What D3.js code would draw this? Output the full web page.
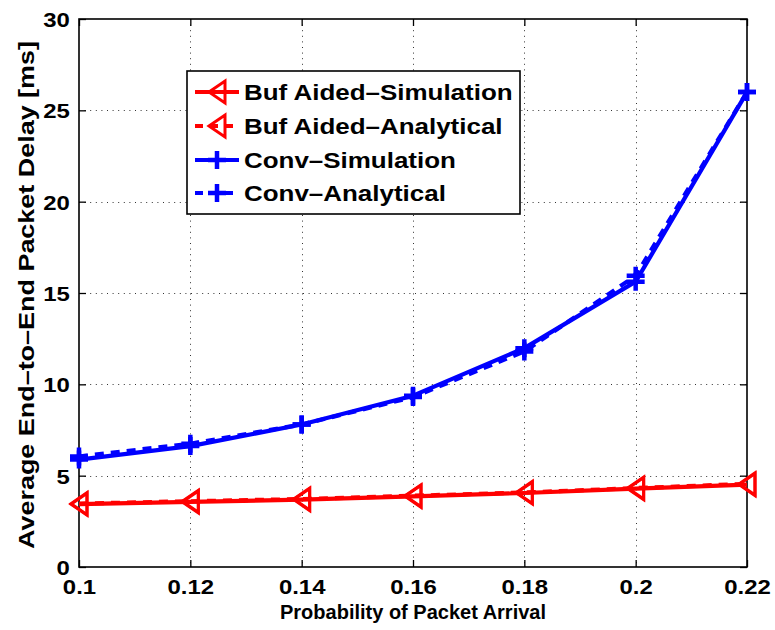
<!DOCTYPE html>
<html>
<head>
<meta charset="utf-8">
<script src="https://cdn.jsdelivr.net/npm/d3@7"></script>
<style>
  body { margin: 0; background: #fff; }
  text { font-family: "Liberation Sans", Arial, Helvetica, sans-serif; font-weight: bold; fill: #000; }
</style>
</head>
<body>
<svg id="chart" width="775" height="630"></svg>
<script>
// Probability of packet arrival (x) and average end-to-end delay in ms (y)
const arrivalProb = [0.10, 0.12, 0.14, 0.16, 0.18, 0.20, 0.22];
const bufAidedSim = [3.44, 3.56, 3.69, 3.87, 4.05, 4.29, 4.51];
const bufAidedAna = [3.47, 3.60, 3.72, 3.90, 4.08, 4.32, 4.55];
const convSim     = [5.88, 6.62, 7.80, 9.38, 11.98, 15.62, 26.00];
const convAna     = [6.05, 6.75, 7.80, 9.30, 11.80, 15.95, 26.00];

const xTickValues = [0.10, 0.12, 0.14, 0.16, 0.18, 0.20, 0.22];
const xTickLabels = ["0.1", "0.12", "0.14", "0.16", "0.18", "0.2", "0.22"];
const yTickValues = [0, 5, 10, 15, 20, 25, 30];
const yTickLabels = ["0", "5", "10", "15", "20", "25", "30"];

const seriesNames = ["Buf Aided\u2013Simulation", "Buf Aided\u2013Analytical", "Conv\u2013Simulation", "Conv\u2013Analytical"];

const series = [
  { name: seriesNames[0], values: bufAidedSim, color: "#ff0000", dash: null,  marker: "tri" },
  { name: seriesNames[1], values: bufAidedAna, color: "#ff0000", dash: "9,7", marker: "tri" },
  { name: seriesNames[2], values: convSim,     color: "#0000ff", dash: null,  marker: "plus" },
  { name: seriesNames[3], values: convAna,     color: "#0000ff", dash: "9,7", marker: "plus" }
];

const svg = d3.select("#chart");
const box = { left: 79, right: 747, top: 19, bottom: 567 };
const tickStretch = 1.14;    // horizontal widening of the bold tick labels
const legendStretch = 1.18;  // and of the legend entries

const x = d3.scaleLinear().domain([0.1, 0.22]).range([box.left, box.right]);
const y = d3.scaleLinear().domain([0, 30]).range([box.bottom, box.top]);

// dotted grid
const grid = svg.append("g").attr("class", "grid")
  .attr("stroke", "#333").attr("stroke-width", 1).attr("stroke-dasharray", "1,4.6");
grid.selectAll("line.gx").data(xTickValues.slice(1, -1)).join("line")
  .attr("x1", d => Math.round(x(d)) + 0.5).attr("x2", d => Math.round(x(d)) + 0.5)
  .attr("y1", box.top).attr("y2", box.bottom);
grid.selectAll("line.gy").data(yTickValues.slice(1, -1)).join("line")
  .attr("y1", d => Math.round(y(d)) + 0.5).attr("y2", d => Math.round(y(d)) + 0.5)
  .attr("x1", box.left).attr("x2", box.right);

// axes with inward ticks on all four sides
function styleAxis(g) {
  g.select(".domain").remove();
  g.selectAll(".tick line").attr("stroke", "#000").attr("stroke-width", 1.3);
}
const xAxis = d3.axisBottom(x).tickValues(xTickValues)
  .tickFormat((d, i) => xTickLabels[i]).tickSizeInner(-7).tickSizeOuter(0);
const gx = svg.append("g").attr("transform", `translate(0,${box.bottom})`).call(xAxis).call(styleAxis);
gx.selectAll(".tick text").attr("y", 27).attr("dy", null)
  .attr("font-size", 21).attr("transform", `scale(${tickStretch},1)`);

const yAxis = d3.axisLeft(y).tickValues(yTickValues)
  .tickFormat((d, i) => yTickLabels[i]).tickSizeInner(-7).tickSizeOuter(0);
const gy = svg.append("g").attr("transform", `translate(${box.left},0)`).call(yAxis).call(styleAxis);
gy.selectAll(".tick text").attr("x", -8).attr("dy", "0.36em")
  .attr("font-size", 21).attr("transform", `scale(${tickStretch},1)`);

svg.append("g").attr("transform", `translate(0,${box.top})`)
  .call(d3.axisTop(x).tickValues(xTickValues).tickFormat("").tickSizeInner(-7).tickSizeOuter(0)).call(styleAxis);
svg.append("g").attr("transform", `translate(${box.right},0)`)
  .call(d3.axisRight(y).tickValues(yTickValues).tickFormat("").tickSizeInner(-7).tickSizeOuter(0)).call(styleAxis);

svg.append("rect").attr("x", box.left).attr("y", box.top)
  .attr("width", box.right - box.left).attr("height", box.bottom - box.top)
  .attr("fill", "none").attr("stroke", "#000").attr("stroke-width", 1.6);

// axis titles
svg.append("text").attr("x", (box.left + box.right) / 2).attr("y", 619)
  .attr("text-anchor", "middle").attr("font-size", 21)
  .attr("textLength", 266).attr("lengthAdjust", "spacingAndGlyphs")
  .text("Probability of Packet Arrival");
svg.append("text")
  .attr("transform", `translate(34,${(box.top + box.bottom) / 2 + 2}) rotate(-90)`)
  .attr("text-anchor", "middle").attr("font-size", 22)
  .attr("textLength", 508).attr("lengthAdjust", "spacingAndGlyphs")
  .text("Average End\u2013to\u2013End Packet Delay [ms]");

// markers
function drawMarker(g, kind, color) {
  if (kind === "tri") {
    g.append("path").attr("d", "M-8,0 L8,-11 L8,11 Z")
      .attr("fill", "none").attr("stroke", color).attr("stroke-width", 3).attr("stroke-linejoin", "miter");
  } else {
    g.append("path").attr("d", "M-9,0 H9 M0,-9 V9")
      .attr("fill", "none").attr("stroke", color).attr("stroke-width", 4.5);
  }
}

const line = d3.line().x((d, i) => x(arrivalProb[i])).y(d => y(d));
const plotArea = svg.append("g");
series.forEach(s => {
  plotArea.append("path").datum(s.values).attr("d", line)
    .attr("fill", "none").attr("stroke", s.color).attr("stroke-width", 4.2)
    .attr("stroke-linejoin", "round")
    .attr("stroke-dasharray", s.dash);
  s.values.forEach((v, i) => {
    const g = plotArea.append("g").attr("transform", `translate(${x(arrivalProb[i])},${y(v)})`);
    drawMarker(g, s.marker, s.color);
  });
});

// legend
const legend = svg.append("g");
legend.append("rect").attr("x", 187).attr("y", 71).attr("width", 333).attr("height", 143)
  .attr("fill", "#fff").attr("stroke", "#000").attr("stroke-width", 1.6);
const rowY = [92, 126, 160, 193];
series.forEach((s, i) => {
  const ly = rowY[i];
  legend.append("line").attr("x1", 195).attr("x2", 239).attr("y1", ly).attr("y2", ly)
    .attr("stroke", s.color).attr("stroke-width", 4.2).attr("stroke-dasharray", s.dash ? "8,7" : null);
  drawMarker(legend.append("g").attr("transform", `translate(217,${ly})`), s.marker, s.color);
  legend.append("g").attr("transform", `translate(244,${ly + 8})`)
    .append("text").attr("font-size", 22).attr("transform", `scale(${legendStretch},1)`).text(s.name);
});
</script>
</body>
</html>
